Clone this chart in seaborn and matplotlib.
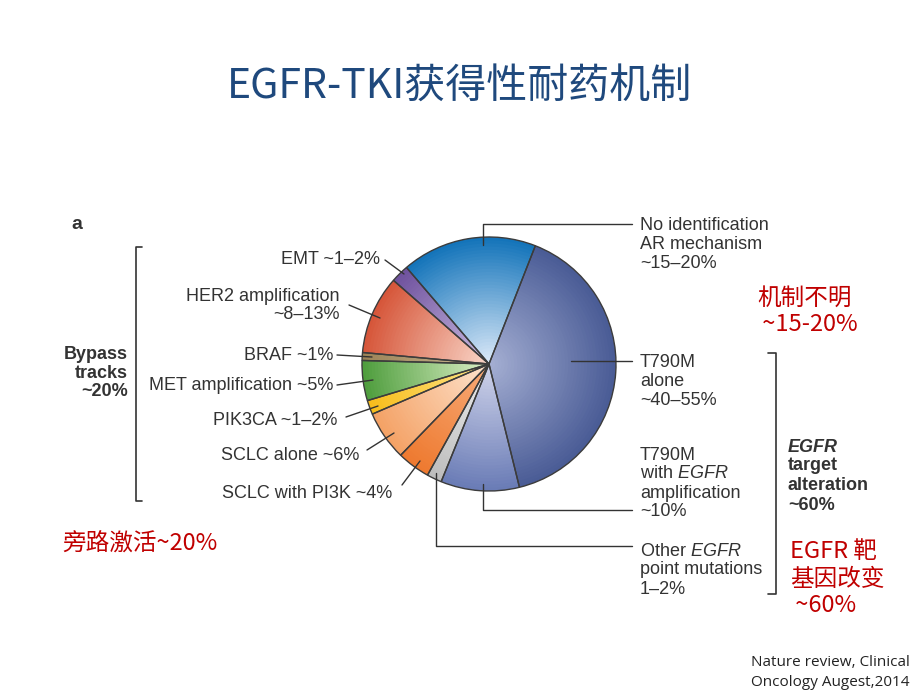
import matplotlib
matplotlib.use("Agg")
import matplotlib.pyplot as plt
import seaborn as sns

sns.set_style("white")
plt.rcParams['font.family'] = ['Liberation Sans', 'Noto Sans CJK SC', 'DejaVu Sans']
plt.rcParams['mathtext.fontset'] = 'custom'
plt.rcParams['mathtext.rm'] = 'Liberation Sans'
plt.rcParams['mathtext.it'] = 'Liberation Sans:italic'

# Data (clockwise from the top-right boundary)
mechanisms = ["T790M alone", "T790M with EGFR amplification", "Other EGFR point mutations",
              "SCLC with PI3K", "SCLC alone", "PIK3CA", "MET amplification", "BRAF",
              "HER2 amplification", "EMT", "No identification AR mechanism"]
shares = [40.2, 10.0, 1.9, 4.2, 6.3, 1.8, 5.1, 1.0, 10.0, 2.3, 17.2]
outer_colors = ["#4a5c96", "#6a7cb6", "#bdbdbd", "#ee7a30", "#f4a266", "#f7bd1c",
                "#4f9e3e", "#9c8458", "#d6563a", "#6f529e", "#1474ba"]
inner_colors = ["#a4aed2", "#cfd3ea", "#ececec", "#f7ab78", "#fde3cd", "#fde48a",
                "#dcefc6", "#cbb894", "#f9d6c8", "#cbbde2", "#dbe9f8"]

left_labels = [["EMT ~1–2%"], ["HER2 amplification", "~8–13%"], ["BRAF ~1%"],
               ["MET amplification ~5%"], ["PIK3CA ~1–2%"], ["SCLC alone ~6%"],
               ["SCLC with PI3K ~4%"]]
right_labels = [["No identification", "AR mechanism", "~15–20%"],
                ["T790M", "alone", "~40–55%"],
                ["T790M", "with $\\mathit{EGFR}$", "amplification", "~10%"],
                ["Other $\\mathit{EGFR}$", "point mutations", "1–2%"]]

W, H = 920, 690


def px(x, y):
    return x, H - y


def lines(ax, x, y0, step, rows, dy=2, **kw):
    for i, row in enumerate(rows):
        ax.text(*px(x, y0 + i * step + dy), row, va="center", **kw)


fig = plt.figure(figsize=(9.2, 6.9), dpi=100)
ax = fig.add_axes([0, 0, 1, 1])

# Pie with radial gradient, built from stacked pies
center = px(489, 364)
R = 127
n_layers = 40
palettes = [sns.blend_palette([i, o], n_colors=n_layers) for i, o in zip(inner_colors, outer_colors)]
for k in range(n_layers - 1, -1, -1):
    r = R * (k + 1) / n_layers
    ax.pie(shares, radius=r, center=center, startangle=68.6, counterclock=False,
           colors=[p[k] for p in palettes], wedgeprops=dict(linewidth=0, antialiased=True))
ax.pie(shares, radius=R, center=center, startangle=68.6, counterclock=False,
       colors=["none"] * len(shares), wedgeprops=dict(linewidth=1.0, edgecolor="#3c3c3c"))

lc = "#333333"
fs = 13
# left labels
left_pos = [(380, 258), (340, 295), (333, 354), (333, 384), (337, 419), (359, 454), (392, 492)]
for rows, (x, y) in zip(left_labels, left_pos):
    lines(ax, x, y, 18, rows, ha="right", fontsize=fs, color=lc)

leaders_left = [((385, 260), (404, 274)), ((349, 305), (380, 318)), ((337, 355), (372, 357)),
                ((337, 385), (373, 380)), ((346, 417), (378, 406)), ((367, 450), (394, 433)),
                ((402, 485), (420, 461))]
for a, b in leaders_left:
    ax.plot(*zip(px(*a), px(*b)), color=lc, lw=1.0)

# right labels
right_pos = [(640, 224), (640, 361), (640, 453), (640, 549)]
for rows, (x, y) in zip(right_labels, right_pos):
    lines(ax, x, y, 19, rows, ha="left", fontsize=fs, color=lc)

leaders_right = [[(483, 245), (483, 224), (632, 224)],
                 [(571, 361), (632, 361)],
                 [(483, 484), (483, 510), (632, 510)],
                 [(436, 473), (436, 546), (632, 546)]]
for pts in leaders_right:
    xs, ys = zip(*[px(*p) for p in pts])
    ax.plot(xs, ys, color=lc, lw=1.0)

# brackets
ax.plot(*zip(px(142, 247), px(136, 247), px(136, 501), px(142, 501)), color=lc, lw=1.2)
ax.plot(*zip(px(768, 353), px(776, 353), px(776, 594), px(768, 594)), color=lc, lw=1.2)

lines(ax, 128, 353, 18.5, ["Bypass", "tracks", "~20%"], ha="right", fontsize=fs,
      fontweight="bold", color=lc)
lines(ax, 788, 445, 19, ["EGFR"], ha="left", fontsize=fs, fontweight="bold",
      fontstyle="italic", color=lc)
lines(ax, 788, 464, 19.5, ["target", "alteration", "~60%"], ha="left", fontsize=fs,
      fontweight="bold", color=lc)
ax.text(*px(71, 225), "a", ha="left", va="center", fontsize=14, fontweight="bold", color=lc)

# title and Chinese notes
cjk = ["Noto Sans CJK SC", "DejaVu Sans"]
ax.text(*px(460, 86), "EGFR-TKI获得性耐药机制", ha="center", va="center", fontsize=29.5,
        color="#1f497d", family=cjk)
red = "#c00000"
lines(ax, 757, 296, 27, ["机制不明", " ~15-20%"], ha="left", fontsize=17, color=red, family=cjk)
lines(ax, 790, 550, 27, ["EGFR 靶", "基因改变", " ~60%"], ha="left", fontsize=17, color=red,
      family=cjk)
lines(ax, 62, 541, 0, ["旁路激活~20%"], ha="left", fontsize=17, color=red, family=cjk)
lines(ax, 830, 660, 21, ["Nature review, Clinical", "Oncology Augest,2014"], ha="center",
      fontsize=11, color="#222222", family=["Open Sans", "DejaVu Sans"])

ax.set_xlim(0, W)
ax.set_ylim(0, H)
ax.set_aspect("equal")
ax.axis("off")
fig.savefig("out.png", dpi=100)
